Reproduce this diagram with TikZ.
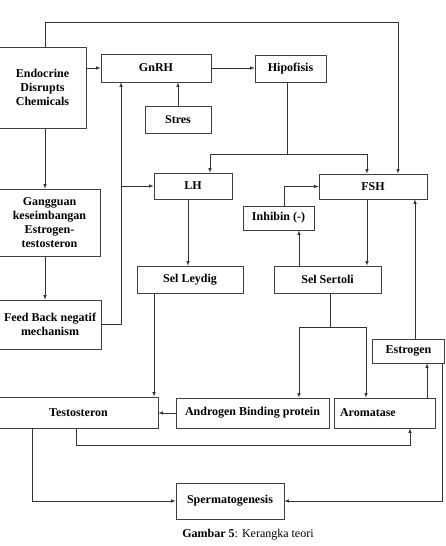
\documentclass[tikz,border=0pt]{standalone}
\usepackage{fontspec}
\setmainfont{Liberation Serif}
\usetikzlibrary{arrows}
\tikzstyle{box} =[rectangle, draw=black!75, line width=0.7pt, fill=white, inner sep=1pt, align=center, font=\fontsize{12}{13.8}\selectfont\bfseries]
\tikzstyle{arrow} =[line width=0.6pt, draw=black!80, ->, >=latex]
\tikzstyle{line} =[line width=0.6pt, draw=black!80]

\begin{document}
\begin{tikzpicture}[x=1pt, y=-1pt]
\useasboundingbox (0,0) rectangle (445,546);
\node (edc) [box, minimum width=87, minimum height=81] at (42.5,87.5) {Endocrine\\Disrupts\\Chemicals};
\node (gnrh) [box, minimum width=110, minimum height=28] at (156,68) {GnRH};
\node (hipo) [box, minimum width=71, minimum height=27] at (290.5,68.5) {Hipofisis};
\node (stres) [box, minimum width=66, minimum height=27] at (178,119.5) {Stres};
\node (lh) [box, minimum width=78, minimum height=26] at (193,186) {LH};
\node (fsh) [box, minimum width=108, minimum height=25] at (373,186.5) {FSH};
\node (gang) [box, minimum width=101, minimum height=67] at (49.5,222.5) {Gangguan\\keseimbangan\\Estrogen-\\testosteron};
\node (inh) [box, minimum width=71, minimum height=24] at (278.5,218) {Inhibin (-)};
\node (leydig) [box, minimum width=106, minimum height=27] at (190,279.5) {Sel Leydig};
\node (sertoli) [box, minimum width=107, minimum height=27] at (327.5,279.5) {Sel Sertoli};
\node (feed) [box, minimum width=102, minimum height=49] at (50,324.5) {Feed Back negatif\\mechanism};
\node (estr) [box, minimum width=72, minimum height=24] at (408.5,351) {Estrogen};
\node (testo) [box, minimum width=159, minimum height=31] at (78.5,412.5) {Testosteron};
\node (abp) [box, minimum width=153, minimum height=30] at (252.5,413) {Androgen Binding protein};
\node (aro) [box, minimum width=101, minimum height=30, text width=89, align=left] at (384.5,413) {Aromatase};
\node (sperm) [box, minimum width=108, minimum height=36] at (230,501) {Spermatogenesis};
\node (cap) at (248,535) {\fontsize{12}{14}\selectfont\textbf{Gambar 5}: Kerangka teori};
\coordinate (hsplit) at (287,154);
\coordinate (ssplit) at (330,327);
\coordinate (fbx) at (121,324.5);

\draw [arrow] ([xshift=2.5]edc.north) -- ++(0,-24) -| ([xshift=25]fsh.north);
\draw [arrow] (edc.east |- gnrh.west) -- (gnrh.west);
\draw [arrow] (gnrh.east) -- (hipo.west |- gnrh.east);
\draw [arrow] (stres.north) -- (stres.north |- gnrh.south);
\draw [line] ([xshift=-3.5]hipo.south) -- (hsplit);
\draw [arrow] (hsplit) -| ([xshift=17]lh.north);
\draw [arrow] (hsplit) -| ([xshift=-6]fsh.north);
\draw [arrow] ([xshift=2.5]edc.south) -- ([xshift=2.5]edc.south |- gang.north);
\draw [arrow] ([xshift=-4.5]gang.south) -- ([xshift=-4.5]gang.south |- feed.north);
\draw [arrow] (feed.east) -| ([xshift=-35]gnrh.south);
\draw [arrow] (fbx |- lh.west) -- (lh.west);
\draw [arrow] ([xshift=-5]lh.south) -- ([xshift=-5]lh.south |- leydig.north);
\draw [arrow] ([xshift=-6]fsh.south) -- ([xshift=-6]fsh.south |- sertoli.north);
\draw [arrow] ([xshift=-28.5]sertoli.north) -- ([xshift=-28.5]sertoli.north |- inh.south);
\draw [arrow] ([xshift=5.5]inh.north) |- (fsh.west);
\draw [arrow] ([xshift=-36]leydig.south) -- ([xshift=-36]leydig.south |- testo.north);
\draw [line] ([xshift=2.5]sertoli.south) -- (ssplit);
\draw [arrow] (ssplit) -| ([xshift=46.5]abp.north);
\draw [arrow] (ssplit) -| ([xshift=-18.5]aro.north);
\draw [arrow] (abp.west) -- (abp.west -| testo.east);
\draw [arrow] ([xshift=42.5]aro.north) -- ([xshift=42.5]aro.north |- estr.south);
\draw [arrow] ([xshift=6.5]estr.north) -- ([xshift=6.5]estr.north |- fsh.south);
\draw [arrow] ([xshift=-2.5]testo.south) -- ++(0,17) -| ([xshift=25.5]aro.south);
\draw [arrow] ([xshift=-46.5]testo.south) |- (sperm.west);
\draw [arrow] ([xshift=33.5]estr.south) |- (sperm.east);
\end{tikzpicture}
\end{document}
